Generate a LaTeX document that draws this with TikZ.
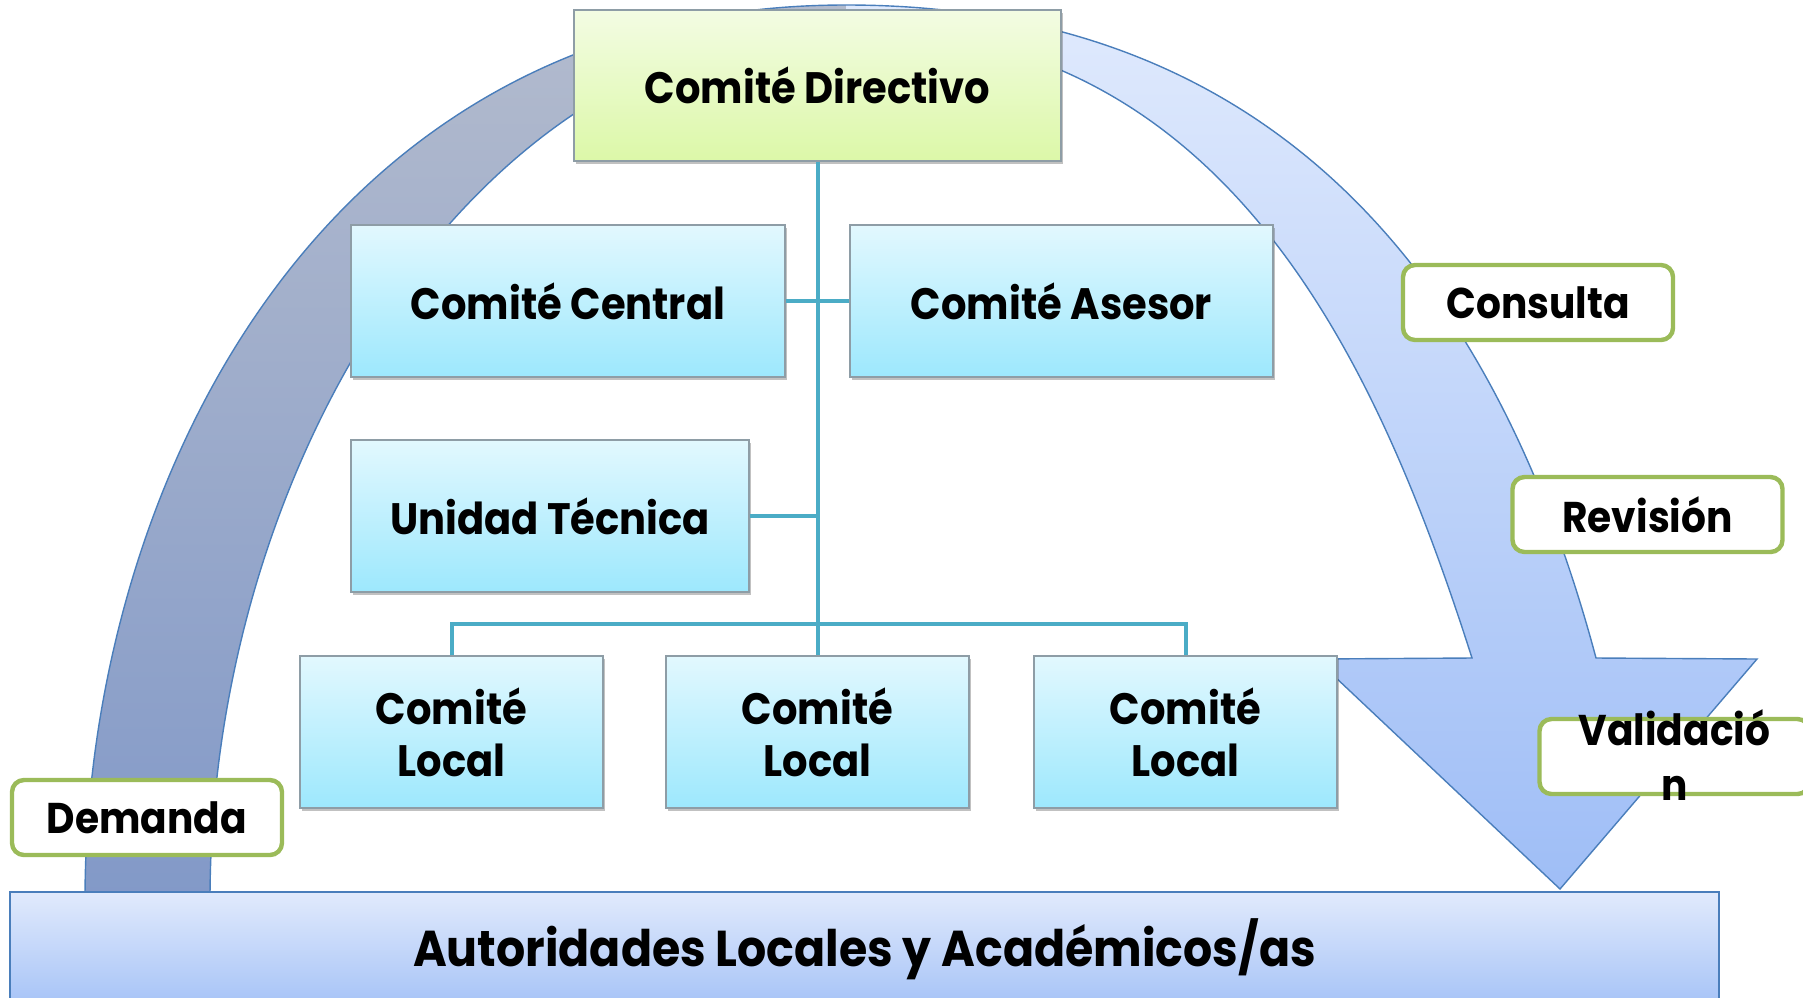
\documentclass[tikz,border=0pt]{standalone}
\usepackage{fontspec}
\setmainfont{Poppins}[FakeStretch=0.91]
\usetikzlibrary{shadows}
\definecolor{cyanTop}{HTML}{E2F8FE}
\definecolor{cyanBot}{HTML}{9DE8FD}
\definecolor{greenTop}{HTML}{F3FCE3}
\definecolor{greenBot}{HTML}{DCF8A8}
\definecolor{boxBorder}{HTML}{8E9DA6}
\definecolor{leftTop}{HTML}{B3BBCD}
\definecolor{leftBot}{HTML}{8299C8}
\definecolor{rightTop}{HTML}{E0EAFD}
\definecolor{rightBot}{HTML}{9EBDF6}
\definecolor{arcBorder}{HTML}{4A7EBB}
\definecolor{barTop}{HTML}{E1EAFC}
\definecolor{barBot}{HTML}{A6C3F7}
\definecolor{conn}{HTML}{4BACC6}
\definecolor{lblGreen}{HTML}{9BBB59}
\newcommand{\ArcShape}{(85,900) .. controls (85,497) and (313,5) .. (846,5)
  .. controls (1296,5) and (1502.5,308) .. (1596,658)
  -- (1757,659) -- (1560,889) -- (1316,659) -- (1472,658)
  .. controls (1376,358) and (1226,28) .. (846,28)
  .. controls (477,28) and (210,464) .. (210,900) -- cycle}
\begin{document}
\begin{tikzpicture}[x=0.5pt,y=-0.5pt,
  orgbox/.style={draw=boxBorder, line width=0.7pt, top color=cyanTop, bottom color=cyanBot,
    align=center, inner sep=0pt, font=\fontsize{22}{26}\selectfont\bfseries,
    drop shadow={shadow xshift=1pt, shadow yshift=-1.6pt, opacity=0.35, fill=black!70}},
  topbox/.style={orgbox, top color=greenTop, bottom color=greenBot},
  lblbox/.style={draw=lblGreen, line width=2.2pt, rounded corners=6pt, fill=white,
    minimum width=135pt, minimum height=37.5pt, inner sep=0pt,
    font=\fontsize{21.5}{26}\selectfont\bfseries},
  connline/.style={draw=conn, line width=2pt}
]
\useasboundingbox (0,0) rectangle (1803,997);
\clip (0,0) rectangle (1803,997);
% curved arrow
\begin{scope}
  \clip (0,0) rectangle (846,997);
  \shade[top color=leftTop, bottom color=leftBot] \ArcShape;
\end{scope}
\begin{scope}
  \clip (846,0) rectangle (1803,997);
  \shade[top color=rightTop, bottom color=rightBot] \ArcShape;
\end{scope}
\draw[arcBorder, line width=0.7pt] \ArcShape;
% bottom bar
\node[draw=arcBorder, line width=0.8pt, top color=barTop, bottom color=barBot,
  minimum width=854.5pt, minimum height=57pt, inner sep=0pt,
  font=\fontsize{25.2}{30}\selectfont\bfseries] (bar) at (864.5,949) {Autoridades Locales y Académicos/as};
% boxes
\node[topbox, minimum width=243.5pt, minimum height=75.5pt] (dir) at (817.5,85.5) {Comité Directivo};
\node[orgbox, minimum width=217pt, minimum height=76pt] (cen) at (568,301) {Comité Central};
\node[orgbox, minimum width=211.5pt, minimum height=76pt] (ase) at (1061.5,301) {Comité Asesor};
\node[orgbox, minimum width=199pt, minimum height=76pt] (uni) at (550,516) {Unidad Técnica};
\node[orgbox, minimum width=151.5pt, minimum height=76pt] (loc1) at (451.5,732) {Comité\\Local};
\node[orgbox, minimum width=151.5pt, minimum height=76pt] (loc2) at (817.5,732) {Comité\\Local};
\node[orgbox, minimum width=151.5pt, minimum height=76pt] (loc3) at (1185.5,732) {Comité\\Local};
% connectors
\coordinate (bus) at (dir.south |- 0,624);
\draw[connline] (dir.south) -- (loc2.north);
\draw[connline] (cen.east) -- (ase.west);
\draw[connline] (uni.east) -- (uni.east -| dir.south);
\draw[connline] (loc1.north) -- (loc1.north |- bus) -- (loc3.north |- bus) -- (loc3.north);
% labels
\node[lblbox] (con) at (1538,302.5) {Consulta};
\node[lblbox] (rev) at (1647.5,514.5) {Revisión};
\node[lblbox] (val) at (1674.5,756.5) {\smash{\raisebox{-8pt}{\begin{tabular}{@{}c@{}}Validació\\[1.5pt]n\end{tabular}}}};
\node[lblbox] (dem) at (147,817.5) {Demanda};
\end{tikzpicture}
\end{document}
